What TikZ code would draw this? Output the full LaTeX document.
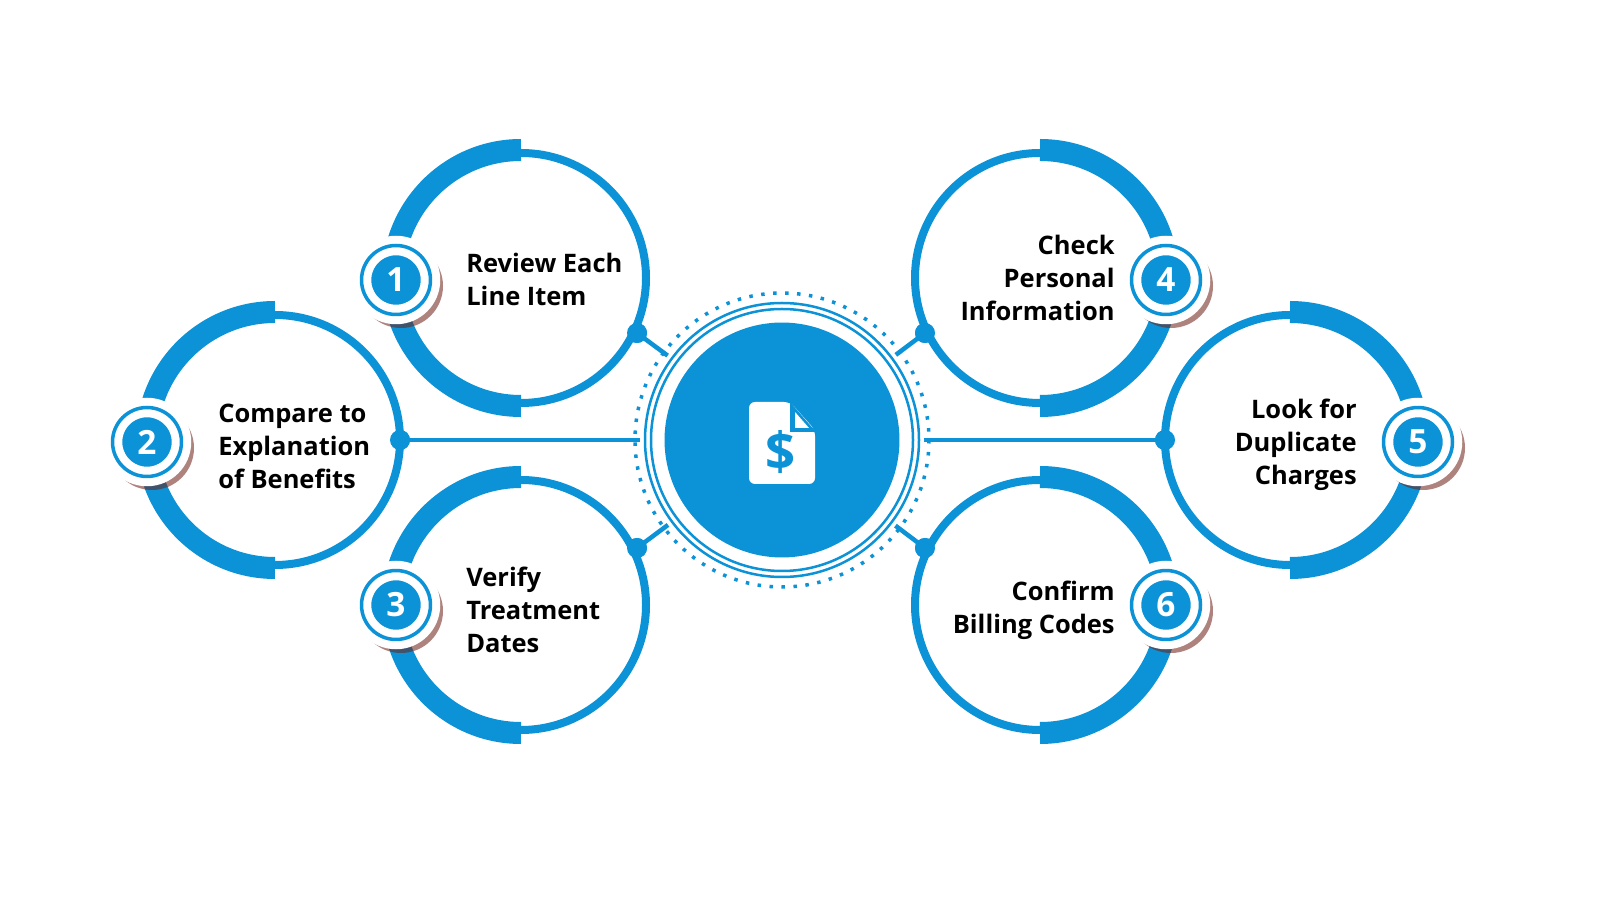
\documentclass[tikz,border=0pt]{standalone}
\usepackage{fontspec}
\setmainfont{Open Sans}
\definecolor{blu}{RGB}{12,146,214}
\definecolor{shd}{RGB}{110,30,20}
\begin{document}
\begin{tikzpicture}[x=0.02cm,y=-0.02cm,
  ring/.style={draw=blu,line width=0.16cm},
  thick/.style={draw=blu,line width=0.44cm},
  conn/.style={draw=blu,line width=0.09cm},
  dot/.style={circle,fill=blu,inner sep=0pt,minimum size=0.4cm},
  badge/.style={circle,fill=blu,draw=white,line width=0.16cm,double=blu,double distance=0.07cm,minimum size=1.38cm,inner sep=0pt,text=white,font=\bfseries\fontsize{19}{19}\selectfont},
  lab/.style={font=\bfseries\fontsize{14.5}{18.8}\selectfont,text=black,inner sep=0pt}]
\useasboundingbox (0,0) rectangle (1600,901);
\fill[white] (0,0) rectangle (1600,901);
% connectors
\coordinate (c0) at (782,440);
\node[dot] (d1) at (637,333) {};
\node[dot] (d2) at (400,440) {};
\node[dot] (d3) at (637,548) {};
\node[dot] (d4) at (925,333) {};
\node[dot] (d5) at (1165,440) {};
\node[dot] (d6) at (925,548) {};
\foreach \d in {d1,d2,d3,d4,d5,d6} \draw[conn] (\d.center) -- (c0);
% circles
\foreach \cx/\cy/\s in {521/278/1,275/440/1,521/605/1,1040/278/-1,1290/440/-1,1040/605/-1}{
  \fill[white] (\cx,\cy) circle[radius=121];
  \draw[ring] (\cx,\cy) circle[radius=125];
  \ifnum\s=1
    \draw[thick] (\cx,\cy) ++(90:128) arc[start angle=90,end angle=270,radius=128];
  \else
    \draw[thick] (\cx,\cy) ++(90:128) arc[start angle=90,end angle=-90,radius=128];
  \fi
}
\foreach \d in {d1,d2,d3,d4,d5,d6} \node[dot] at (\d) {};
% center
\fill[white] (c0) circle[radius=142];
\draw[blu,line width=0.05cm] (c0) circle[radius=131];
\draw[blu,line width=0.05cm] (c0) circle[radius=137];
\draw[blu,line width=0.07cm,dash pattern=on 0.07cm off 0.17cm] (c0) circle[radius=147];
\node[circle,fill=blu,minimum size=4.7cm,inner sep=0pt] (c) at (c0) {};
% icon
\fill[white,rounded corners=0.12cm] (749,402) -- (790,402) -- (815,430) -- (815,484) -- (749,484) -- cycle;
\fill[blu] (790,402) -- (790,432) -- (816,432) -- cycle;
\fill[white] (795,412) -- (795,428) -- (809,428) -- cycle;
\node[text=blu,font=\bfseries\fontsize{30}{30}\selectfont] (ic) at (781,452) {\$};
% badges
\foreach \bx/\by/\n/\nm in {396/280/1/b1,147/442/2/b2,396/605/3/b3,1166/280/4/b4,1418/442/5/b5,1166/605/6/b6}{
  \fill[shd,opacity=0.55] (\bx+5,\by+6) circle[radius=42];
  \node[badge] (\nm) at (\bx,\by) {\n};
}
% labels
\node[lab,anchor=west,align=left] (t1) at (466,279) {Review Each\\Line Item};
\node[lab,anchor=west,align=left] (t2) at (218,446) {Compare to\\Explanation\\of Benefits};
\node[lab,anchor=west,align=left] (t3) at (466,610) {Verify\\Treatment\\Dates};
\node[lab,anchor=east,align=right] (t4) at (1115,278) {Check\\Personal\\Information};
\node[lab,anchor=east,align=right] (t5) at (1357,445) {Look for\\Duplicate\\Charges};
\node[lab,anchor=east,align=right] (t6) at (1115,610) {Confirm\\Billing Codes};
\end{tikzpicture}
\end{document}
